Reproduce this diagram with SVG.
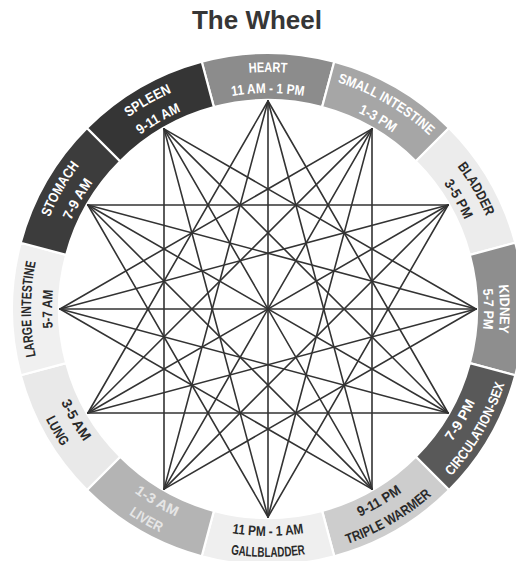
<svg xmlns="http://www.w3.org/2000/svg" xmlns:xlink="http://www.w3.org/1999/xlink" width="516" height="561" viewBox="0 0 516 561">
<style>
.seg{stroke:#ffffff;stroke-width:2.2;stroke-linejoin:round}
.lbl{font-family:"Liberation Sans",Arial,sans-serif;font-weight:bold;font-size:14px}
.w{fill:#ffffff}
.lw{fill:#e6e6e6}
.d{fill:#2a2a2a}
#connectors line{stroke:#333333;stroke-width:1.6;stroke-linecap:round}
.title{font-family:"Liberation Sans",Arial,sans-serif;font-weight:bold;font-size:26px;fill:#363636}
</style>
<defs>
<path id="tn" d="M149.5,103.75 A237,237 0 0 1 386.5,103.75"/>
<path id="kn" d="M152,108.08 A232,232 0 0 1 384,108.08"/>
<path id="tt" d="M160,121.94 A216,216 0 0 1 376,121.94"/>
<path id="bt" d="M154.5,505.59 A227,227 0 0 0 381.5,505.59"/>
<path id="bn" d="M144,523.77 A248,248 0 0 0 392,523.77"/>
</defs>
<rect width="516" height="561" fill="#ffffff"/>
<text class="title" x="257" y="29" text-anchor="middle">The Wheel</text>

<g id="heart">
<path class="seg" fill="#8c8c8c" d="M201.74,61.72 A256,256 0 0 1 334.26,61.72 L322.09,107.12 A209,209 0 0 0 213.91,107.12 Z"/>
<text class="lbl w" text-anchor="middle"><textPath xlink:href="#tn" startOffset="50%" textLength="38" lengthAdjust="spacingAndGlyphs">HEART</textPath></text>
<text class="lbl w" text-anchor="middle"><textPath xlink:href="#tt" startOffset="50%" textLength="72" lengthAdjust="spacingAndGlyphs">11 AM - 1 PM</textPath></text>
</g>
<g id="small-intestine">
<path class="seg" fill="#a6a6a6" d="M334.26,61.72 A256,256 0 0 1 449.02,127.98 L415.79,161.21 A209,209 0 0 0 322.09,107.12 Z"/>
<g transform="rotate(30 268 309)">
<text class="lbl w" text-anchor="middle"><textPath xlink:href="#tn" startOffset="50%" textLength="107" lengthAdjust="spacingAndGlyphs">SMALL INTESTINE</textPath></text>
<text class="lbl w" text-anchor="middle"><textPath xlink:href="#tt" startOffset="50%" textLength="40" lengthAdjust="spacingAndGlyphs">1-3 PM</textPath></text>
</g>
</g>
<g id="bladder">
<path class="seg" fill="#ececec" d="M449.02,127.98 A256,256 0 0 1 515.28,242.74 L469.88,254.91 A209,209 0 0 0 415.79,161.21 Z"/>
<g transform="rotate(60 268 309)">
<text class="lbl d" text-anchor="middle"><textPath xlink:href="#tn" startOffset="50%" textLength="58" lengthAdjust="spacingAndGlyphs">BLADDER</textPath></text>
<text class="lbl d" text-anchor="middle"><textPath xlink:href="#tt" startOffset="50%" textLength="42" lengthAdjust="spacingAndGlyphs">3-5 PM</textPath></text>
</g>
</g>
<g id="kidney">
<path class="seg" fill="#8e8e8e" d="M515.28,242.74 A256,256 0 0 1 515.28,375.26 L469.88,363.09 A209,209 0 0 0 469.88,254.91 Z"/>
<g transform="rotate(90 268 309)">
<text class="lbl w" text-anchor="middle"><textPath xlink:href="#kn" startOffset="50%" textLength="48" lengthAdjust="spacingAndGlyphs">KIDNEY</textPath></text>
<text class="lbl w" text-anchor="middle"><textPath xlink:href="#tt" startOffset="50%" textLength="40" lengthAdjust="spacingAndGlyphs">5-7 PM</textPath></text>
</g>
</g>
<g id="circulation-sex">
<path class="seg" fill="#595959" d="M515.28,375.26 A256,256 0 0 1 449.02,490.02 L415.79,456.79 A209,209 0 0 0 469.88,363.09 Z"/>
<g transform="rotate(-60 268 309)">
<text class="lbl w" text-anchor="middle"><textPath xlink:href="#bt" startOffset="50%" textLength="46" lengthAdjust="spacingAndGlyphs">7-9 PM</textPath></text>
<text class="lbl w" text-anchor="middle"><textPath xlink:href="#bn" startOffset="50%" textLength="107" lengthAdjust="spacingAndGlyphs">CIRCULATION-SEX</textPath></text>
</g>
</g>
<g id="triple-warmer">
<path class="seg" fill="#cdcdcd" d="M449.02,490.02 A256,256 0 0 1 334.26,556.28 L322.09,510.88 A209,209 0 0 0 415.79,456.79 Z"/>
<g transform="rotate(-30 268 309)">
<text class="lbl d" text-anchor="middle"><textPath xlink:href="#bt" startOffset="50%" textLength="49" lengthAdjust="spacingAndGlyphs">9-11 PM</textPath></text>
<text class="lbl d" text-anchor="middle"><textPath xlink:href="#bn" startOffset="50%" textLength="98" lengthAdjust="spacingAndGlyphs">TRIPLE WARMER</textPath></text>
</g>
</g>
<g id="gallbladder">
<path class="seg" fill="#efefef" d="M334.26,556.28 A256,256 0 0 1 201.74,556.28 L213.91,510.88 A209,209 0 0 0 322.09,510.88 Z"/>
<text class="lbl d" text-anchor="middle"><textPath xlink:href="#bt" startOffset="50%" textLength="72" lengthAdjust="spacingAndGlyphs">11 PM - 1 AM</textPath></text>
<text class="lbl d" text-anchor="middle"><textPath xlink:href="#bn" startOffset="50%" textLength="75" lengthAdjust="spacingAndGlyphs">GALLBLADDER</textPath></text>
</g>
<g id="liver">
<path class="seg" fill="#b4b4b4" d="M201.74,556.28 A256,256 0 0 1 86.98,490.02 L120.21,456.79 A209,209 0 0 0 213.91,510.88 Z"/>
<g transform="rotate(30 268 309)">
<text class="lbl lw" text-anchor="middle"><textPath xlink:href="#bt" startOffset="50%" textLength="48" lengthAdjust="spacingAndGlyphs">1-3 AM</textPath></text>
<text class="lbl lw" text-anchor="middle"><textPath xlink:href="#bn" startOffset="50%" textLength="36" lengthAdjust="spacingAndGlyphs">LIVER</textPath></text>
</g>
</g>
<g id="lung">
<path class="seg" fill="#e9e9e9" d="M86.98,490.02 A256,256 0 0 1 20.72,375.26 L66.12,363.09 A209,209 0 0 0 120.21,456.79 Z"/>
<g transform="rotate(60 268 309)">
<text class="lbl d" text-anchor="middle"><textPath xlink:href="#bt" startOffset="50%" textLength="46" lengthAdjust="spacingAndGlyphs">3-5 AM</textPath></text>
<text class="lbl d" text-anchor="middle"><textPath xlink:href="#bn" startOffset="50%" textLength="32" lengthAdjust="spacingAndGlyphs">LUNG</textPath></text>
</g>
</g>
<g id="large-intestine">
<path class="seg" fill="#f0f0f0" d="M20.72,375.26 A256,256 0 0 1 20.72,242.74 L66.12,254.91 A209,209 0 0 0 66.12,363.09 Z"/>
<g transform="rotate(-90 268 309)">
<text class="lbl d" text-anchor="middle"><textPath xlink:href="#tn" startOffset="50%" textLength="95" lengthAdjust="spacingAndGlyphs">LARGE INTESTINE</textPath></text>
<text class="lbl d" text-anchor="middle"><textPath xlink:href="#tt" startOffset="50%" textLength="38" lengthAdjust="spacingAndGlyphs">5-7 AM</textPath></text>
</g>
</g>
<g id="stomach">
<path class="seg" fill="#3c3c3c" d="M20.72,242.74 A256,256 0 0 1 86.98,127.98 L120.21,161.21 A209,209 0 0 0 66.12,254.91 Z"/>
<g transform="rotate(-60 268 309)">
<text class="lbl w" text-anchor="middle"><textPath xlink:href="#tn" startOffset="50%" textLength="60" lengthAdjust="spacingAndGlyphs">STOMACH</textPath></text>
<text class="lbl w" text-anchor="middle"><textPath xlink:href="#tt" startOffset="50%" textLength="44" lengthAdjust="spacingAndGlyphs">7-9 AM</textPath></text>
</g>
</g>
<g id="spleen">
<path class="seg" fill="#353535" d="M86.98,127.98 A256,256 0 0 1 201.74,61.72 L213.91,107.12 A209,209 0 0 0 120.21,161.21 Z"/>
<g transform="rotate(-30 268 309)">
<text class="lbl w" text-anchor="middle"><textPath xlink:href="#tn" startOffset="50%" textLength="50" lengthAdjust="spacingAndGlyphs">SPLEEN</textPath></text>
<text class="lbl w" text-anchor="middle"><textPath xlink:href="#tt" startOffset="50%" textLength="47" lengthAdjust="spacingAndGlyphs">9-11 AM</textPath></text>
</g>
</g>

<g id="connectors">
<line x1="268" y1="101" x2="448.1" y2="413"/>
<line x1="372" y1="128.9" x2="372" y2="489.1"/>
<line x1="448.1" y1="205" x2="268" y2="517"/>
<line x1="476" y1="309" x2="164" y2="489.1"/>
<line x1="448.1" y1="413" x2="87.9" y2="413"/>
<line x1="372" y1="489.1" x2="60" y2="309"/>
<line x1="268" y1="517" x2="87.9" y2="205"/>
<line x1="164" y1="489.1" x2="164" y2="128.9"/>
<line x1="87.9" y1="413" x2="268" y2="101"/>
<line x1="60" y1="309" x2="372" y2="128.9"/>
<line x1="87.9" y1="205" x2="448.1" y2="205"/>
<line x1="164" y1="128.9" x2="476" y2="309"/>
<line x1="268" y1="101" x2="372" y2="489.1"/>
<line x1="372" y1="128.9" x2="268" y2="517"/>
<line x1="448.1" y1="205" x2="164" y2="489.1"/>
<line x1="476" y1="309" x2="87.9" y2="413"/>
<line x1="448.1" y1="413" x2="60" y2="309"/>
<line x1="372" y1="489.1" x2="87.9" y2="205"/>
<line x1="268" y1="517" x2="164" y2="128.9"/>
<line x1="164" y1="489.1" x2="268" y2="101"/>
<line x1="87.9" y1="413" x2="372" y2="128.9"/>
<line x1="60" y1="309" x2="448.1" y2="205"/>
<line x1="87.9" y1="205" x2="476" y2="309"/>
<line x1="164" y1="128.9" x2="448.1" y2="413"/>
<line x1="268" y1="101" x2="268" y2="517"/>
<line x1="372" y1="128.9" x2="164" y2="489.1"/>
<line x1="448.1" y1="205" x2="87.9" y2="413"/>
<line x1="476" y1="309" x2="60" y2="309"/>
<line x1="448.1" y1="413" x2="87.9" y2="205"/>
<line x1="372" y1="489.1" x2="164" y2="128.9"/>
</g>
</svg>
